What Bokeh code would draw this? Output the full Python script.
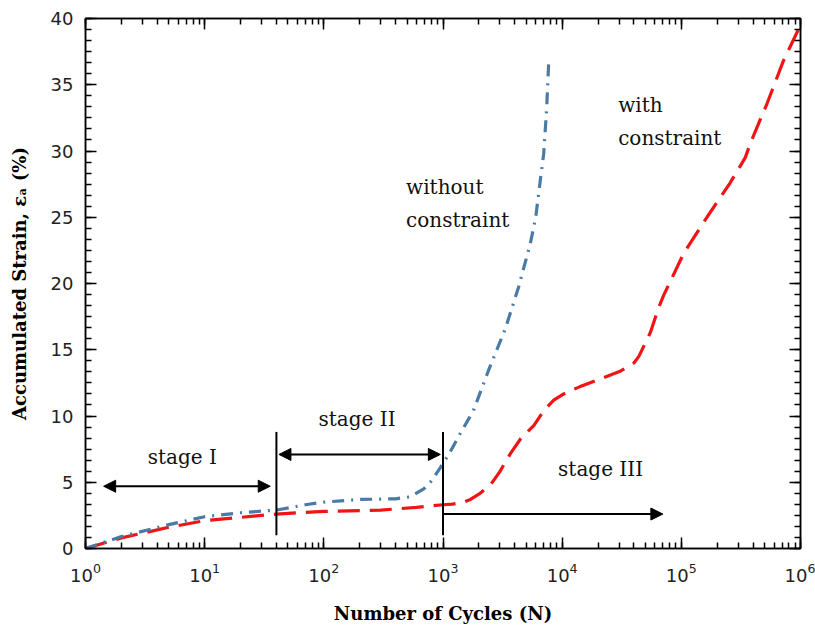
from bokeh.plotting import figure
from bokeh.models import (LogAxis, LinearAxis, Arrow, NormalHead, Label, Range1d,
                          LogTicker, SingleIntervalTicker, CustomJSTickFormatter)
from bokeh.embed import file_html
from bokeh.resources import INLINE

# ---- data ----
without_N = [1, 2, 5, 10, 20, 40, 70, 100, 200, 400, 530, 690, 800, 950, 1150, 1400,
             1800, 2400, 3340, 4300, 5400, 6000, 6600, 7000, 7400, 7700]
without_eps = [0.0, 0.9, 1.8, 2.4, 2.7, 2.9, 3.3, 3.5, 3.7, 3.75, 3.9, 4.5, 5.1, 6.1, 7.3, 8.7,
               10.4, 13.4, 16.6, 19.7, 23.0, 25.0, 28.0, 29.8, 33.1, 36.6]

with_N = [1, 2, 5, 10, 40, 100, 300, 600, 1000, 1200, 1500, 1700, 2000, 2500, 3000, 3700,
          4500, 5800, 7000, 8500, 10000, 11700, 14000, 21000, 31000, 40000, 44000, 48000,
          55000, 64000, 71000, 105000, 164000, 257000, 344000, 380000, 525000, 718000,
          1000000]
with_eps = [0.0, 0.8, 1.6, 2.1, 2.6, 2.8, 2.9, 3.1, 3.3, 3.35, 3.5, 3.7, 4.1, 4.8, 5.8, 7.2,
            8.3, 9.3, 10.4, 11.2, 11.6, 11.9, 12.2, 12.8, 13.4, 14.0, 14.5, 15.2,
            16.3, 18.1, 19.1, 22.3, 25.0, 27.6, 29.5, 30.6, 33.6, 36.8,
            39.5]

stage_bounds = [40, 1000]            # vertical separators (N)
sep_y = [1.0, 8.8]                   # vertical extent of separators
stage1_arrow = [1.42, 35.5, 4.7]     # x0, x1, y
stage2_arrow = [42, 950, 7.1]
stage3_arrow = [1000, 70000, 2.6]

stage_labels = ["stage I", "stage II", "stage III"]
stage_label_x = [6.5, 190, 21000]
stage_label_y = [6.9, 9.8, 6.0]

curve_label_lines = [["without", "constraint"], ["with", "constraint"]]
curve_label_x = [490, 29500]
curve_label_y = [[27.3, 24.8], [33.5, 31.0]]

RED = "#f01414"
BLUE = "#4a7aa6"
SERIF = "DejaVu Serif"
SANS = "DejaVu Sans"

p = figure(width=815, height=627, x_axis_type="log", output_backend="svg",
           toolbar_location=None, x_range=Range1d(1, 1e6), y_range=Range1d(0, 40),
           min_border_left=85, min_border_right=15, min_border_top=18, min_border_bottom=79)
p.background_fill_color = "white"
p.border_fill_color = "white"
p.outline_line_color = "black"
p.outline_line_width = 1.5
p.grid.visible = False

# curves
p.line(with_N, with_eps, line_color=RED, line_width=3.2, line_dash="22 10")
p.line(without_N, without_eps, line_color=BLUE, line_width=3.2, line_dash="12 7 2 7")

# stage separators
for xb in stage_bounds:
    p.line([xb, xb], sep_y, line_color="black", line_width=2)

def arrow(spec, both):
    x0, x1, y = spec
    end = NormalHead(size=12, fill_color="black", line_color="black")
    start = NormalHead(size=12, fill_color="black", line_color="black") if both else None
    p.add_layout(Arrow(x_start=x0, x_end=x1, y_start=y, y_end=y, end=end, start=start,
                       line_color="black", line_width=2))

arrow(stage1_arrow, True)
arrow(stage2_arrow, True)
arrow(stage3_arrow, False)

for t, x, y in zip(stage_labels, stage_label_x, stage_label_y):
    p.add_layout(Label(x=x, y=y, text=t, text_font=SERIF, text_font_size="20px",
                       text_align="center", text_baseline="middle", text_color="#111"))
for lines, x, ys in zip(curve_label_lines, curve_label_x, curve_label_y):
    for t, y in zip(lines, ys):
        p.add_layout(Label(x=x, y=y, text=t, text_font=SERIF, text_font_size="20px",
                           text_align="left", text_baseline="middle", text_color="#111"))

blank = CustomJSTickFormatter(code="return ''")

def style_axis(ax, labels=True):
    ax.axis_line_color = "black"
    ax.axis_line_width = 1.5
    ax.major_tick_in = 11
    ax.major_tick_out = 0
    ax.minor_tick_in = 6
    ax.minor_tick_out = 0
    ax.major_tick_line_width = 1.5
    ax.minor_tick_line_width = 1.5
    ax.major_tick_line_color = "black"
    ax.minor_tick_line_color = "black"
    if labels:
        ax.major_label_text_font = SANS
        ax.major_label_text_font_size = "18px"
        ax.major_label_text_color = "#222"
    else:
        ax.formatter = blank
        ax.major_label_standoff = 0

xa = p.xaxis[0]
ya = p.yaxis[0]
style_axis(xa)
style_axis(ya)
ya.ticker = SingleIntervalTicker(interval=5, num_minor_ticks=6)
xa.ticker = LogTicker(num_minor_ticks=10)
xa.major_label_standoff = 14
ya.major_label_standoff = 12

xa.axis_label = "Number of Cycles (N)"
ya.axis_label = "Accumulated Strain, \u03b5\u2090 (%)"
for ax in (xa, ya):
    ax.axis_label_text_font = SERIF
    ax.axis_label_text_font_style = "bold"
    ax.axis_label_text_font_size = "18px"
    ax.axis_label_text_color = "black"
xa.axis_label_standoff = 18
ya.axis_label_standoff = 18

top = LogAxis(ticker=LogTicker(num_minor_ticks=10))
right = LinearAxis(ticker=SingleIntervalTicker(interval=5, num_minor_ticks=6))
style_axis(top, labels=False)
style_axis(right, labels=False)
p.add_layout(top, "above")
p.add_layout(right, "right")

open("out.html", "w").write(file_html(p, INLINE))
